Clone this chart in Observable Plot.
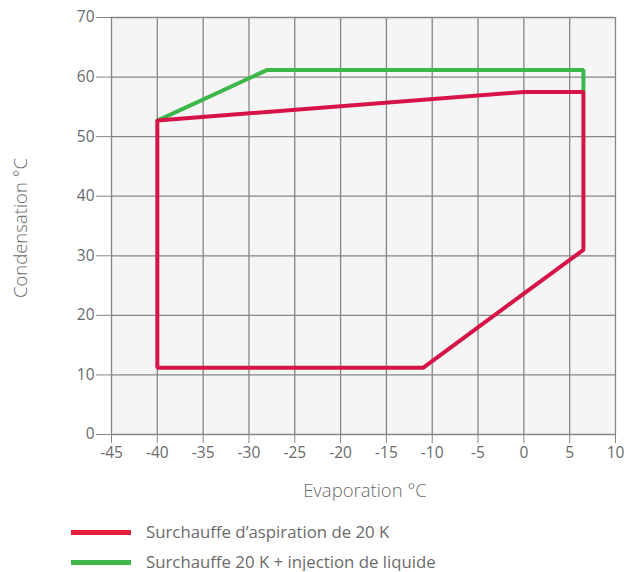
<!DOCTYPE html>
<html>
<head>
<meta charset="utf-8">
<script src="https://cdn.jsdelivr.net/npm/d3@7"></script>
<script src="https://cdn.jsdelivr.net/npm/@observablehq/plot@0.6"></script>
<style>
  html, body { margin: 0; padding: 0; background: #fff; }
  body { width: 631px; font-family: "Open Sans", sans-serif; }
  #legend { padding-top: 18px; }
  .item { display: flex; align-items: center; height: 18px; }
  .item + .item { margin-top: 12px; }
  .sw { width: 60px; height: 5px; margin-left: 71px; margin-right: 15px; }
  .lab { font-size: 16.8px; line-height: 18px; color: #6b6b6b; }
</style>
</head>
<body>
<div id="chart"></div>
<div id="legend"></div>
<script>
const xTicks = [-45, -40, -35, -30, -25, -20, -15, -10, -5, 0, 5, 10];
const yTicks = [0, 10, 20, 30, 40, 50, 60, 70];

const redEvap = [-40, -11, 6.5, 6.5, 0, -40];
const redCond = [11.2, 11.2, 31, 57.5, 57.5, 52.7];
const greenEvap = [-40, -28, 6.5, 6.5];
const greenCond = [52.7, 61.2, 61.2, 57.5];

const seriesNames = ["Surchauffe d\u2019aspiration de 20 K", "Surchauffe 20 K + injection de liquide"];
const lineColors = ["#d71447", "#3cb84a"];
const legendColors = ["#e8213a", "#3cb84a"];

const red = redEvap.map((e, i) => ({evap: e, cond: redCond[i]}));
const green = greenEvap.map((e, i) => ({evap: e, cond: greenCond[i]}));

const W = 631, H = 505, ML = 111, MR = 16, MT = 17, MB = 71;

const plot = Plot.plot({
  width: W, height: H,
  marginLeft: ML, marginRight: MR, marginTop: MT, marginBottom: MB,
  style: {fontFamily: "Open Sans, sans-serif", fontSize: "15.5px", background: "#fff"},
  x: {domain: [-45, 10]},
  y: {domain: [0, 70]},
  marks: [
    Plot.frame({fill: "#f5f5f5", stroke: null}),
    Plot.gridX(xTicks, {stroke: "#868686", strokeOpacity: 1, strokeWidth: 1.3}),
    Plot.gridY(yTicks, {stroke: "#868686", strokeOpacity: 1, strokeWidth: 1.3}),
    Plot.axisX(xTicks, {tickSize: 9, tickPadding: 3, stroke: "#868686", fill: "#6b6b6b", fontSize: 15.5, label: null, tickFormat: d => String(d).replace("\u2212", "-")}),
    Plot.axisY(yTicks, {tickSize: 15, tickPadding: 2, stroke: "#868686", fill: "#6b6b6b", fontSize: 15.5, label: null}),
    Plot.line(green, {x: "evap", y: "cond", stroke: lineColors[1], strokeWidth: 4, strokeLinejoin: "miter"}),
    Plot.line(red, {x: "evap", y: "cond", stroke: lineColors[0], strokeWidth: 4, strokeLinejoin: "miter", curve: "linear-closed"})
  ]
});
document.getElementById("chart").appendChild(plot);

const svg = d3.select(plot);
svg.append("text")
  .attr("x", 365).attr("y", 497)
  .attr("text-anchor", "middle")
  .attr("fill", "#6b6b6b").attr("font-size", 18.5)
  .attr("font-family", "Open Sans, sans-serif").attr("font-weight", 300)
  .text("Evaporation \u00b0C");
svg.append("text")
  .attr("transform", `translate(27,228) rotate(-90)`)
  .attr("text-anchor", "middle")
  .attr("fill", "#6b6b6b").attr("font-size", 18.5)
  .attr("font-family", "Open Sans, sans-serif").attr("font-weight", 300)
  .text("Condensation \u00b0C");

const legend = d3.select("#legend");
seriesNames.forEach((n, i) => {
  const it = legend.append("div").attr("class", "item");
  it.append("div").attr("class", "sw").style("background", legendColors[i]);
  it.append("div").attr("class", "lab").text(n);
});
</script>
</body>
</html>
